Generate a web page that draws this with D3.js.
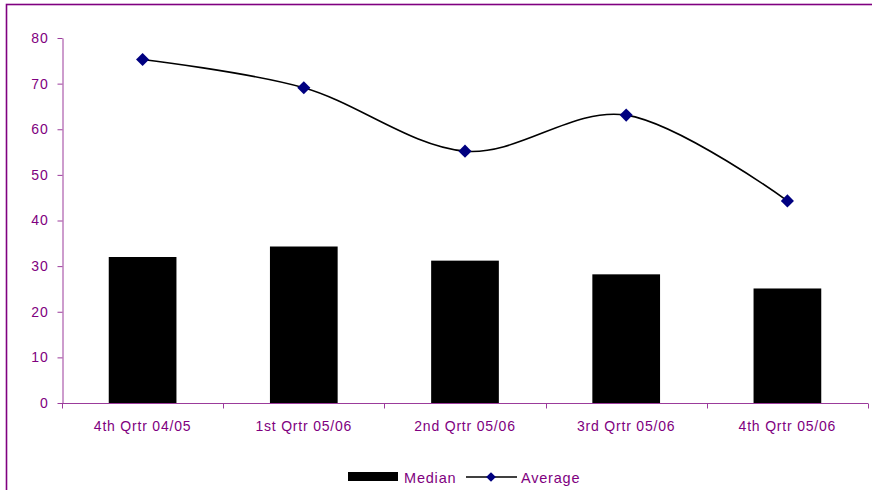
<!DOCTYPE html>
<html>
<head>
<meta charset="utf-8">
<script src="https://cdn.jsdelivr.net/npm/d3@7"></script>
<style>
  html, body { margin: 0; padding: 0; background: #fff; }
  svg { display: block; }
  text { font-family: "Liberation Sans", Arial, sans-serif; }
</style>
</head>
<body>
<script>
// Quarterly figures: median (bars) and average (smoothed line with markers)
const categories = ["4th Qrtr 04/05", "1st Qrtr 05/06", "2nd Qrtr 05/06", "3rd Qrtr 05/06", "4th Qrtr 05/06"];
const medianValues = [32, 34.3, 31.2, 28.2, 25.1];
const averageValues = [75.3, 69.1, 55.2, 63.1, 44.3];
const yTicks = [0, 10, 20, 30, 40, 50, 60, 70, 80];
const seriesNames = ["Median", "Average"];

const W = 872, H = 490;
const purple = "#800080";
const axisColor = "#9b3b9b";
const markerColor = "#000080";
const fontSize = "14px";
const spacing = "0.8px";

const svg = d3.select("body").append("svg")
  .attr("width", W).attr("height", H);

// Outer frame
svg.append("rect")
  .attr("x", 6.5).attr("y", 4.5)
  .attr("width", W + 10).attr("height", H + 10)
  .attr("fill", "none").attr("stroke", purple).attr("stroke-width", 1.6);

const plot = { left: 62, right: 868, top: 38, bottom: 403 };

const x = d3.scaleBand().domain(categories)
  .range([plot.left, plot.right]).paddingInner(0.58).paddingOuter(0.29);
const xPoint = d3.scalePoint().domain(categories)
  .range([plot.left, plot.right]).padding(0.5);
const y = d3.scaleLinear().domain([0, 80]).range([plot.bottom, plot.top]);

// Bars
svg.append("g").selectAll("rect").data(medianValues).join("rect")
  .attr("x", (d, i) => x(categories[i]))
  .attr("y", d => y(d))
  .attr("width", x.bandwidth())
  .attr("height", d => y(0) - y(d))
  .attr("fill", "#000");

// Y axis
const yAxis = svg.append("g")
  .attr("transform", `translate(${plot.left + 0.5},0)`)
  .call(d3.axisLeft(y).tickValues(yTicks).tickSize(5).tickSizeOuter(0).tickPadding(9));
yAxis.select(".domain").attr("stroke", axisColor);
yAxis.selectAll(".tick line").attr("stroke", axisColor);
yAxis.selectAll(".tick text").attr("fill", purple)
  .style("font-size", fontSize).style("letter-spacing", spacing)
  .style("font-family", "'Liberation Sans', Arial, sans-serif");

// X axis: line plus tick marks at category boundaries
const xg = svg.append("g").attr("transform", `translate(0,${plot.bottom + 0.5})`);
xg.append("line")
  .attr("x1", plot.left).attr("x2", plot.right)
  .attr("stroke", axisColor);
const step = (plot.right - plot.left) / categories.length;
xg.selectAll("line.tk").data(d3.range(categories.length + 1)).join("line")
  .attr("class", "tk")
  .attr("x1", i => Math.round(plot.left + i * step) + 0.5)
  .attr("x2", i => Math.round(plot.left + i * step) + 0.5)
  .attr("y1", 0).attr("y2", 5)
  .attr("stroke", axisColor);
xg.selectAll("text").data(categories).join("text")
  .attr("x", d => xPoint(d))
  .attr("y", 27.5)
  .attr("text-anchor", "middle")
  .attr("fill", purple)
  .style("font-size", fontSize).style("letter-spacing", spacing)
  .text(d => d);

// Average line (smoothed)
const line = d3.line()
  .x((d, i) => xPoint(categories[i]))
  .y(d => y(d))
  .curve(d3.curveCatmullRom.alpha(0));
svg.append("path").datum(averageValues)
  .attr("d", line)
  .attr("fill", "none")
  .attr("stroke", "#000")
  .attr("stroke-width", 1.6);

const diamond = d3.symbol().type(d3.symbolDiamond2).size(110);
svg.append("g").selectAll("path").data(averageValues).join("path")
  .attr("transform", (d, i) => `translate(${xPoint(categories[i])},${y(d)})`)
  .attr("d", diamond)
  .attr("fill", markerColor);

// Legend
const lg = svg.append("g").attr("transform", "translate(0,477)");
lg.append("rect").attr("x", 348).attr("y", -5).attr("width", 50).attr("height", 9).attr("fill", "#000");
lg.append("text").attr("x", 404).attr("y", 5.5).attr("fill", purple)
  .style("font-size", "14.5px").style("letter-spacing", spacing).text(seriesNames[0]);
lg.append("line").attr("x1", 466).attr("x2", 517).attr("y1", 0).attr("y2", 0)
  .attr("stroke", "#000").attr("stroke-width", 1.6);
lg.append("path").attr("transform", "translate(491,0)")
  .attr("d", d3.symbol().type(d3.symbolDiamond2).size(60)).attr("fill", markerColor);
lg.append("text").attr("x", 521).attr("y", 5.5).attr("fill", purple)
  .style("font-size", "14.5px").style("letter-spacing", spacing).text(seriesNames[1]);
</script>
</body>
</html>
